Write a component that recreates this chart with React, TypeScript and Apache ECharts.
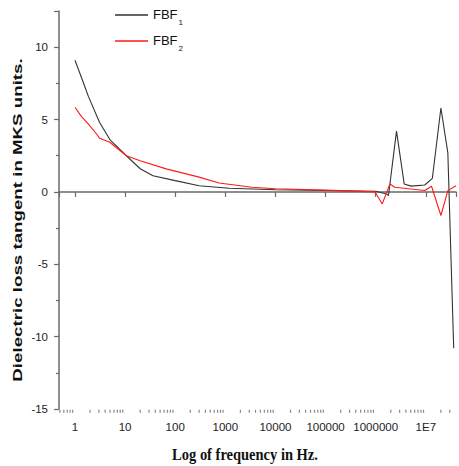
import React, { useEffect, useRef } from 'react';
import * as echarts from 'echarts';

// FBF1 (black)
const freq1 = [1, 1.4, 1.85, 3.1, 5, 10.6, 20, 36, 100, 300, 1200, 10000, 100000, 1000000, 1650000, 1800000, 2600000, 3700000, 5100000, 9500000, 13500000, 20000000, 27500000, 36000000];
const fbf1 = [9.1, 7.75, 6.6, 4.8, 3.6, 2.5, 1.6, 1.12, 0.78, 0.43, 0.25, 0.15, 0.1, 0.05, -0.14, -0.25, 4.2, 0.55, 0.4, 0.48, 0.94, 5.8, 2.7, -10.8];

// FBF2 (red)
const freq2 = [1, 1.35, 1.84, 2.7, 3.1, 4.95, 10.6, 20, 66, 300, 750, 3400, 10000, 100000, 970000, 1350000, 1920000, 2400000, 9500000, 13000000, 20000000, 27500000, 40000000];
const fbf2 = [5.85, 5.2, 4.7, 4.0, 3.7, 3.43, 2.5, 2.15, 1.59, 1.02, 0.62, 0.32, 0.22, 0.12, 0.0, -0.83, 0.55, 0.32, 0.1, 0.39, -1.63, 0.09, 0.43];

const xTickLabels = ['1', '10', '100', '1000', '10000', '100000', '1000000', '1E7'];
const yAxisTitle = 'Dielectric loss tangent in MKS units.';
const xAxisTitle = 'Log of frequency in Hz.';

// log-axis minor tick positions (2..9 within each decade)
const minorXTicks: number[] = [];
for (let e = -1; e <= 7; e++) {
  for (let k = 2; k <= 9; k++) {
    const v = k * Math.pow(10, e);
    if (v >= 0.5 && v <= 3.95e7) minorXTicks.push(v);
  }
}

export default function App() {
  const ref = useRef<HTMLDivElement>(null);
  useEffect(() => {
    const chart = echarts.init(ref.current!, null, { renderer: 'svg' });
    const axisColor = '#6a6a6a';
    chart.setOption({
      animation: false,
      backgroundColor: '#ffffff',
      grid: { left: 59, right: 0, top: 11, bottom: 57, containLabel: false },
      legend: {
        data: ['FBF1', 'FBF2'],
        orient: 'vertical',
        left: 110,
        top: 3,
        icon: 'rect',
        itemWidth: 33,
        itemHeight: 1.5,
        itemGap: 8,
        formatter: (n: string) => (n === 'FBF1' ? '{a|FBF}{s|1}' : '{a|FBF}{s|2}'),
        textStyle: {
          rich: {
            a: { fontSize: 13, fontFamily: 'Liberation Sans', color: '#111', lineHeight: 14, verticalAlign: 'top' },
            s: { fontSize: 8, fontFamily: 'Liberation Sans', color: '#111', lineHeight: 8, padding: [10, 0, 0, 1], verticalAlign: 'top' },
          },
        },
      },
      xAxis: {
        type: 'log',
        logBase: 10,
        min: 0.48,
        max: 4.0e7,
        splitNumber: 8,
        axisLine: { show: true, lineStyle: { color: axisColor, width: 1.5 } },
        axisTick: { show: true, length: 5, lineStyle: { color: axisColor, width: 1.2 } },
        splitLine: { show: false },
        axisLabel: {
          margin: 12,
          fontSize: 11.5,
          fontFamily: 'Liberation Sans',
          color: '#222',
          formatter: (v: number) => {
            const e = Math.log10(v);
            const r = Math.round(e);
            if (Math.abs(e - r) > 1e-6 || r < 0 || r >= xTickLabels.length) return '';
            return xTickLabels[r];
          },
        },
      },
      yAxis: {
        type: 'value',
        min: -15,
        max: 12.5,
        interval: 5,
        axisLine: { show: true, lineStyle: { color: axisColor, width: 1.5 } },
        axisTick: { show: true, length: 5, lineStyle: { color: axisColor, width: 1.2 } },
        minorTick: { show: true, splitNumber: 2, length: 3, lineStyle: { color: axisColor, width: 1.2 } },
        splitLine: { show: false },
        minorSplitLine: { show: false },
        axisLabel: {
          margin: 11,
          fontSize: 11.5,
          fontFamily: 'Liberation Sans',
          color: '#222',
          formatter: (v: number) => (v > 10 ? '' : String(v)),
        },
      },
      series: [
        {
          name: 'FBF1',
          type: 'line',
          data: freq1.map((f, i) => [f, fbf1[i]]),
          symbol: 'none',
          lineStyle: { color: '#333333', width: 1.1 },
          itemStyle: { color: '#333333' },
          z: 3,
        },
        {
          name: 'FBF2',
          type: 'line',
          data: freq2.map((f, i) => [f, fbf2[i]]),
          symbol: 'none',
          lineStyle: { color: '#ff1a1a', width: 1.1 },
          itemStyle: { color: '#ff1a1a' },
          z: 4,
        },
        {
          name: 'minorTicks',
          type: 'scatter',
          data: minorXTicks.map((f) => [f, -15]),
          symbol: 'rect',
          symbolSize: [1.2, 3],
          symbolOffset: [0, 2.3],
          itemStyle: { color: axisColor },
          silent: true,
          clip: false,
          z: 1,
        },
      ],
      graphic: [
        {
          type: 'text',
          x: 17,
          y: 220,
          rotation: Math.PI / 2,
          scaleX: 1.44,
          style: {
            text: yAxisTitle,
            font: 'bold 13px "Liberation Sans"',
            fill: '#111',
            textAlign: 'center',
            textVerticalAlign: 'middle',
          },
        },
        {
          type: 'text',
          x: 245,
          y: 454,
          scaleY: 1.15,
          style: {
            text: xAxisTitle,
            font: 'bold 14.5px "Liberation Serif"',
            fill: '#111',
            textAlign: 'center',
            textVerticalAlign: 'middle',
          },
        },
      ],
    });
    return () => chart.dispose();
  }, []);
  return <div ref={ref} style={{ position: 'absolute', left: 0, top: 0, width: 459, height: 466 }} />;
}
